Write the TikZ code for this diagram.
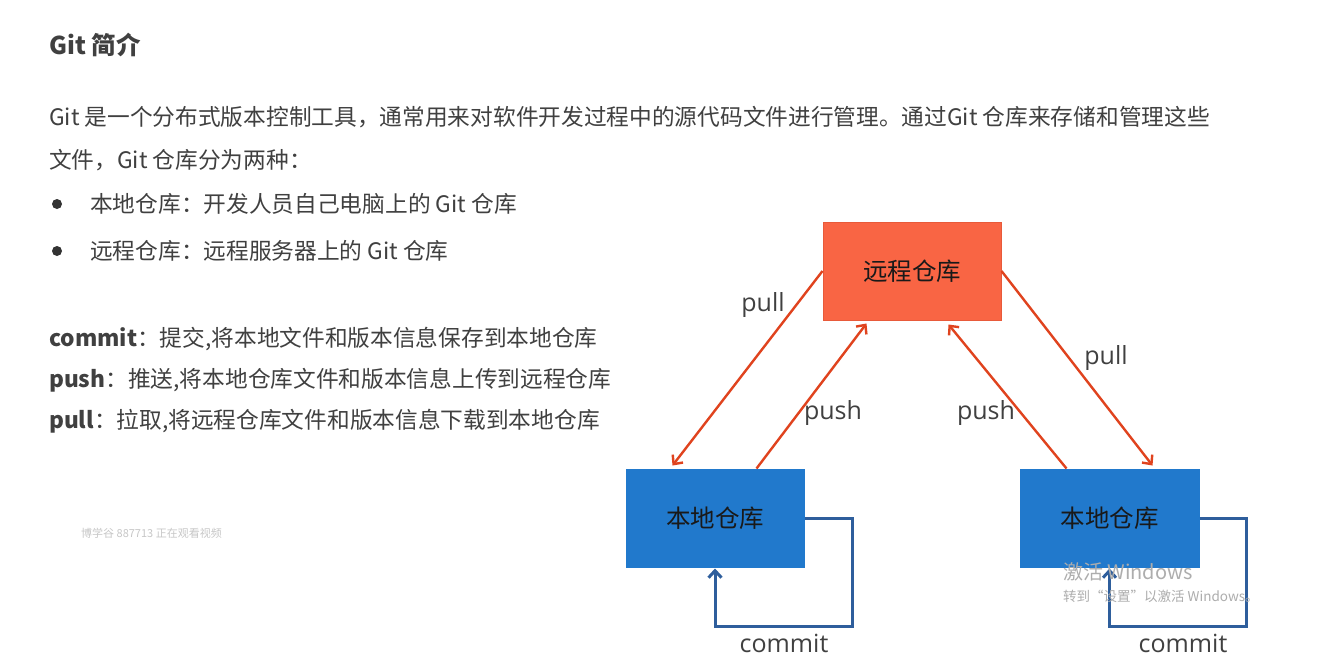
\documentclass[tikz,border=0pt]{standalone}
\usepackage{fontspec}
\setmainfont{Noto Sans CJK SC}
\newfontfamily\labfont{Open Sans}
\usetikzlibrary{arrows.meta,calc}
\definecolor{txt}{HTML}{404040}
\definecolor{remotefill}{HTML}{F96544}
\definecolor{remotedraw}{HTML}{E85A3A}
\definecolor{localfill}{HTML}{2179CC}
\definecolor{arrowred}{HTML}{E0431E}
\definecolor{commitblue}{HTML}{2E5E9C}
\tikzset{
  bodytext/.style={anchor=base west, inner sep=0pt, text=txt, font=\fontsize{22.7}{27}\selectfont},
  remotebox/.style={draw=remotedraw, fill=remotefill, line width=1pt, minimum width=178pt, minimum height=98pt, inner sep=0pt, text=black!90, font=\fontsize{24.5}{28}\selectfont},
  localbox/.style={draw=localfill, fill=localfill, line width=1pt, minimum width=178pt, minimum height=98pt, inner sep=0pt, text=black!90, font=\fontsize{24.5}{28}\selectfont},
  flow/.style={draw=arrowred, line width=2.4pt, -{Straight Barb[length=7pt,width=13pt,line width=2.4pt]}},
  commitline/.style={draw=commitblue, line width=3pt, -{Straight Barb[length=7pt,width=13pt,line width=3pt]}},
  lbl/.style={inner sep=0pt, text=txt, font=\labfont\fontsize{25}{30}\selectfont},
  bulletdot/.style={circle, fill=txt!80!black, minimum size=10pt, inner sep=0pt},
}
\begin{document}
\begin{tikzpicture}[x=1pt,y=-1pt]
\path[use as bounding box, fill=white] (0,0) rectangle (1324,670);

% header and text
\node[bodytext, font=\bfseries\fontsize{24.5}{28}\selectfont] (title) at (49,54) {Git 简介};
\node[bodytext] (l1) at (49,125.6) {Git 是一个分布式版本控制工具，通常用来对软件开发过程中的源代码文件进行管理。通过Git 仓库来存储和管理这些};
\node[bodytext] (l2) at (49,168.6) {文件，Git 仓库分为两种：};
\node[bulletdot] (b1) at (57,204) {};
\node[bodytext] (t1) at (90,212.6) {本地仓库：开发人员自己电脑上的 Git 仓库};
\node[bulletdot] (b2) at (57,251) {};
\node[bodytext] (t2) at (90,259.6) {远程仓库：远程服务器上的 Git 仓库};
\node[bodytext] (c1) at (49,346.6) {\textbf{commit}：提交,将本地文件和版本信息保存到本地仓库};
\node[bodytext] (c2) at (49,387.6) {\textbf{push}：推送,将本地仓库文件和版本信息上传到远程仓库};
\node[bodytext] (c3) at (49,428.6) {\textbf{pull}：拉取,将远程仓库文件和版本信息下载到本地仓库};
\node[anchor=west, inner sep=0pt, text=black!22, font=\fontsize{11}{13}\selectfont] (wm) at (81,533) {博学谷 887713 正在观看视频};

% boxes
\node[remotebox] (remote) at (912,271) {远程仓库};
\node[localbox] (localA) at (715,518) {本地仓库};
\node[localbox, minimum width=179pt] (localB) at (1109.5,518) {本地仓库};

% connectors
\draw[flow] (remote.west) -- ([xshift=47pt,yshift=3pt]localA.north west);
\draw[flow] ([xshift=131pt]localA.north west) -- ([xshift=44pt,yshift=-3pt]remote.south west);
\draw[flow] ([xshift=47pt]localB.north west) -- ([xshift=126pt,yshift=-4pt]remote.south west);
\draw[flow] (remote.east) -- ([xshift=133pt,yshift=3pt]localB.north west);

\draw[commitline] (localA.east) -- ++(48,0) -- ++(0,108) -| ([yshift=-1pt]localA.south);
\draw[commitline] (localB.east) -- ++(47,0) -- ++(0,108) -| ([yshift=-1pt]localB.south);

% labels
\node[lbl] (pullA) at (763,305) {pull};
\node[lbl] (pushA) at (833,413) {push};
\node[lbl] (pushB) at (986,413) {push};
\node[lbl] (pullB) at (1106,358) {pull};
\node[lbl] (commitA) at (784,643) {commit};
\node[lbl] (commitB) at (1183,643) {commit};

% activation watermark
\node[anchor=west, inner sep=0pt, text=black!32, font=\fontsize{20}{24}\selectfont] (act1) at (1063,572) {激活 Windows};
\node[anchor=west, inner sep=0pt, text=black!32, font=\fontsize{13.5}{16}\selectfont] (act2) at (1063,596) {转到“设置”以激活 Windows。};
\end{tikzpicture}
\end{document}
